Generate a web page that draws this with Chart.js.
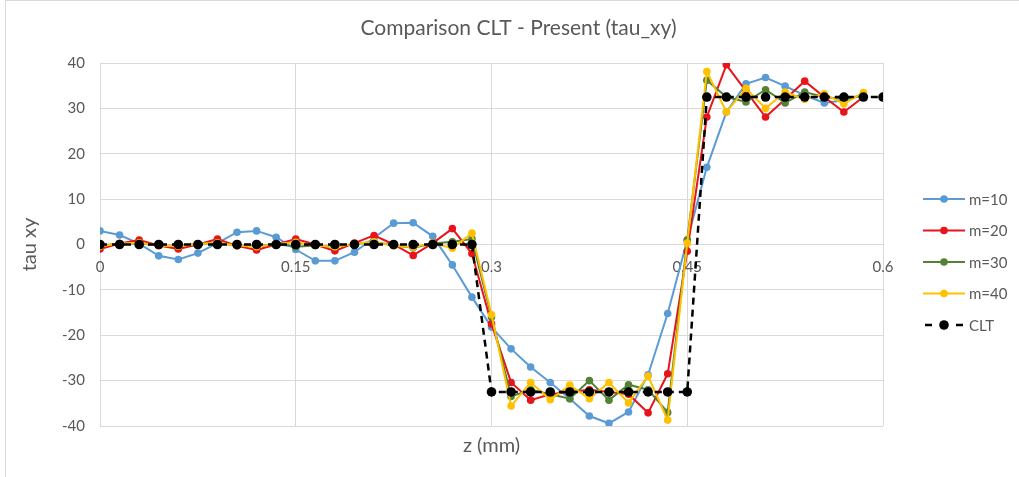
<!doctype html>
<html>
<head>
<meta charset="utf-8">
<title>Comparison CLT - Present (tau_xy)</title>
<style>
  body { margin: 0; background: #fff; }
  #frame { position: absolute; left: 5px; top: 0; width: 1014px; height: 477px; box-sizing: border-box;
           border-left: 1px solid #d9d9d9; border-top: 1px solid #d9d9d9; }
  #chart { position: absolute; left: 0; top: 0; }
</style>
</head>
<body>
<div id="frame"></div>
<canvas id="chart" width="1019" height="477"></canvas>

<script src="https://cdn.jsdelivr.net/npm/chart.js"></script>
<script>

	// through-thickness positions z (mm) of the sampled points
	const zPos = [0, 0.015, 0.03, 0.045, 0.06, 0.075, 0.09, 0.105, 0.12, 0.135,
		0.15, 0.165, 0.18, 0.195, 0.21, 0.225, 0.24, 0.255, 0.27, 0.285,
		0.3, 0.315, 0.33, 0.345, 0.36, 0.375, 0.39, 0.405, 0.42, 0.435,
		0.45, 0.465, 0.48, 0.495, 0.51, 0.525, 0.54, 0.555, 0.57, 0.585]
	const zCLT = zPos.concat([0.6])

	// tau_xy for each number of terms m
	const m10 = [3.0, 2.1, 0.2, -2.5, -3.3, -1.9, 0.3, 2.7, 3.0, 1.6,
		-1.1, -3.6, -3.6, -1.7, 1.5, 4.7, 4.8, 1.8, -4.5, -11.6,
		-18.2, -23.0, -27.0, -30.4, -34.0, -37.8, -39.4, -36.9, -28.7, -15.2,
		1.0, 17.0, 29.2, 35.4, 36.8, 34.9, 32.9, 31.2, 31.8, 33.1]
	const m20 = [-1.0, 0.2, 1.0, -0.2, -1.0, 0.0, 1.2, -0.3, -1.2, 0.0,
		1.2, 0.0, -1.4, 0.3, 2.0, 0.0, -2.4, 0.3, 3.5, -2.0,
		-17.5, -30.4, -34.3, -33.0, -32.5, -32.0, -32.5, -33.0, -37.1, -28.5,
		-1.5, 28.1, 39.6, 33.8, 28.1, 32.0, 36.0, 32.5, 29.2, 32.5]
	const m30 = [-0.3, 0.2, 0.3, -0.2, -0.3, 0.1, 0.4, -0.2, -0.4, 0.1,
		-0.5, -0.2, -0.5, 0.1, 0.6, -0.2, -0.7, 0.2, 0.6, 1.2,
		-16.0, -33.5, -32.0, -33.0, -34.0, -30.0, -34.3, -30.9, -32.0, -37.0,
		1.0, 36.2, 32.5, 31.4, 34.1, 31.2, 33.6, 32.5, 32.0, 32.8]
	const m40 = [-0.4, 0.2, 0.4, -0.2, -0.4, 0.1, 0.4, -0.2, -0.5, 0.1,
		0.5, -0.2, -0.5, 0.1, 0.6, -0.3, -0.6, 0.3, -0.8, 2.5,
		-15.5, -35.6, -30.4, -34.2, -31.0, -34.0, -30.4, -34.9, -29.0, -38.7,
		0.3, 38.1, 29.2, 34.4, 30.0, 33.6, 32.0, 33.2, 31.0, 33.5]
	const clt = [0, 0, 0, 0, 0, 0, 0, 0, 0, 0,
		0, 0, 0, 0, 0, 0, 0, 0, 0, 0,
		-32.5, -32.5, -32.5, -32.5, -32.5, -32.5, -32.5, -32.5, -32.5, -32.5, -32.5,
		32.5, 32.5, 32.5, 32.5, 32.5, 32.5, 32.5, 32.5, 32.5, 32.5]

	const seriesNames = ['m=10', 'm=20', 'm=30', 'm=40', 'CLT']
	const seriesColors = ['#5b9bd5', '#e8141b', '#548235', '#ffc000', '#000000']
	const xTicks = [0, 0.15, 0.3, 0.45, 0.6]
	const yTicks = [-40, -30, -20, -10, 0, 10, 20, 30, 40]

	const FONT = 'Lato'
	const TEXT = '#595959'
	const GRID = '#d9d9d9'

	const toPoints = (xs, ys) => ys.map((v, i) => ({ x: xs[i], y: v }))

	const series = [m10, m20, m30, m40]
	const datasets = series.map((ys, i) => ({
		label: seriesNames[i],
		data: toPoints(zPos, ys),
		borderColor: seriesColors[i],
		backgroundColor: seriesColors[i],
		borderWidth: 2,
		pointRadius: 3.8,
		pointBorderWidth: 0,
		order: 4 - i,
	}))
	datasets.push({
		label: seriesNames[4],
		data: toPoints(zCLT, clt),
		borderColor: seriesColors[4],
		backgroundColor: seriesColors[4],
		borderWidth: 2.5,
		borderDash: [7, 5],
		pointRadius: 4.8,
		pointBorderWidth: 0,
		order: 0,
	})

	// Excel-like legend on the right: line sample with a marker in the middle
	const sideLegend = {
		id: 'sideLegend',
		afterDraw(chart) {
			const ctx = chart.ctx
			ctx.save()
			ctx.font = '15px ' + FONT
			ctx.textBaseline = 'middle'
			seriesNames.forEach((name, i) => {
				const y = 199 + i * 31.5
				const c = seriesColors[i]
				ctx.strokeStyle = c
				ctx.fillStyle = c
				ctx.lineWidth = i === 4 ? 2.5 : 2
				ctx.beginPath()
				if (i === 4) {
					ctx.moveTo(925, y); ctx.lineTo(932, y)
					ctx.moveTo(956, y); ctx.lineTo(963, y)
				} else {
					ctx.moveTo(923, y); ctx.lineTo(965, y)
				}
				ctx.stroke()
				ctx.beginPath()
				ctx.arc(944, y, i === 4 ? 4.8 : 3.8, 0, Math.PI * 2)
				ctx.fill()
				ctx.fillStyle = TEXT
				ctx.fillText(name, 969, y + 1)
			})
			ctx.restore()
		}
	}

	new Chart(document.getElementById('chart'), {
		type: 'scatter',
		data: { datasets },
		plugins: [sideLegend],
		options: {
			responsive: false,
			animation: false,
			showLine: true,
			elements: { line: { tension: 0 } },
			layout: { padding: { left: 18, right: 0, top: 0, bottom: 15 } },
			plugins: {
				legend: { display: false },
				tooltip: { enabled: false },
				title: {
					display: true,
					text: 'Comparison CLT - Present (tau_xy)',
					color: TEXT,
					font: { family: FONT, size: 21, weight: 'normal' },
					padding: { top: 15.4, bottom: 22.4 },
				},
			},
			scales: {
				x: {
					type: 'linear',
					position: { y: 0 },
					min: 0, max: 0.6,
					afterBuildTicks: s => { s.ticks = xTicks.map(v => ({ value: v })) },
					ticks: { color: TEXT, font: { family: FONT, size: 15 }, padding: 14, maxRotation: 0,
						callback: v => String(v) },
					grid: { color: GRID, drawTicks: false },
					border: { display: false },
				},
				xTitle: {
					type: 'linear',
					axis: 'x',
					position: 'bottom',
					min: 0, max: 0.6,
					ticks: { display: false },
					grid: { display: false },
					border: { display: false },
					title: { display: true, text: 'z (mm)', color: TEXT,
						font: { family: FONT, size: 20 }, padding: { top: 0, bottom: 4 } },
				},
				y: {
					min: -40, max: 40,
					afterBuildTicks: s => { s.ticks = yTicks.map(v => ({ value: v })) },
					afterFit: s => { s.width = 82 },
					ticks: { color: TEXT, font: { family: FONT, size: 15 }, padding: 15 },
					grid: { color: GRID, drawTicks: false },
					border: { display: false },
					title: { display: true, text: 'tau xy', color: TEXT,
						font: { family: FONT, size: 20 }, padding: { top: 0, bottom: 0 } },
				},
				// empty right-hand axis keeps room for the legend
				yLegend: {
					axis: 'y',
					position: 'right',
					min: -40, max: 40,
					afterFit: s => { s.width = 136 },
					ticks: { display: false },
					grid: { display: false },
					border: { display: false },
				},
			},
		},
	})

</script>
</body>
</html>
